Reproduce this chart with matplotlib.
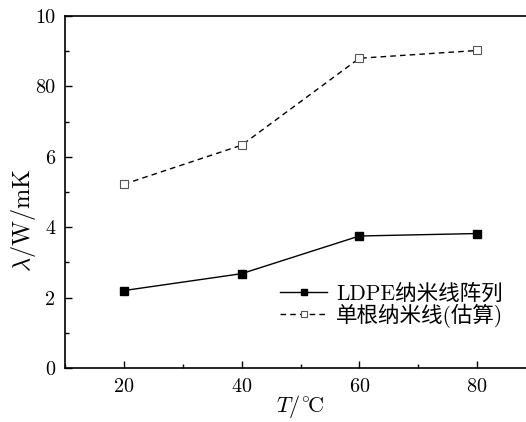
import matplotlib
matplotlib.use("Agg")
import matplotlib.pyplot as plt
from matplotlib.ticker import FixedLocator, FixedFormatter, MultipleLocator

plt.rcParams['font.family'] = ['cmr10', 'Noto Sans CJK SC', 'DejaVu Sans']
plt.rcParams['mathtext.fontset'] = 'cm'
plt.rcParams['axes.formatter.use_mathtext'] = True

# data
temps = [20, 40, 60, 80]
array_k = [2.2, 2.68, 3.75, 3.82]      # LDPE nanowire array
single_k = [5.22, 6.33, 8.8, 9.02]     # single nanowire (estimated)

y_ticks = [0, 2, 4, 6, 8, 10]
y_tick_labels = ['0', '2', '4', '6', '80', '10']
x_ticks = [20, 40, 60, 80]

fig = plt.figure(figsize=(5.26, 4.22), dpi=100)
ax = fig.add_axes([65 / 526, 54 / 422, 1 - 65 / 526, 352 / 422])

ax.plot(temps, array_k, '-', color='black', lw=1.0, marker='s', ms=5.5,
        mfc='black', mec='black', label='LDPE纳米线阵列')
ax.plot(temps, single_k, '--', color='black', lw=1.0, dashes=(4, 3), marker='s',
        ms=5.5, mfc='white', mec='#555555', mew=0.8, label='单根纳米线(估算)')

ax.set_xlim(10, 88.3)
ax.set_ylim(0, 10)
ax.xaxis.set_major_locator(FixedLocator(x_ticks))
ax.xaxis.set_minor_locator(MultipleLocator(10))
ax.yaxis.set_major_locator(FixedLocator(y_ticks))
ax.yaxis.set_major_formatter(FixedFormatter(y_tick_labels))
ax.yaxis.set_minor_locator(MultipleLocator(1))

ax.tick_params(which='both', direction='in', top=False, right=False, labelsize=14.5)
ax.tick_params(which='major', length=5, width=1)
ax.tick_params(which='minor', length=3, width=1)
ax.tick_params(axis='x', pad=7)
ax.tick_params(axis='y', pad=7)
ax.spines['right'].set_visible(False)
for s in ['left', 'bottom', 'top']:
    ax.spines[s].set_linewidth(1.2)

ax.set_xlabel(r'$T/{}^{\circ}\!\mathrm{C}$', fontsize=16, va='center')
ax.xaxis.set_label_coords((300 - 65) / 461, -(406 - 368) / 352)
ax.set_ylabel(r'$\lambda/\mathrm{W/mK}$', fontsize=17.5, va='center')
ax.yaxis.set_label_coords(-(65 - 23) / 461, (368 - 220) / 352)

leg = ax.legend(loc='upper left', bbox_to_anchor=(280 / 526, 1 - 283 / 422),
                bbox_transform=fig.transFigure, frameon=False, fontsize=15.5,
                handlelength=2.2, handletextpad=0.4, labelspacing=0.0,
                borderaxespad=0, borderpad=0, markerscale=0.8)

fig.savefig('out.png', dpi=100)
